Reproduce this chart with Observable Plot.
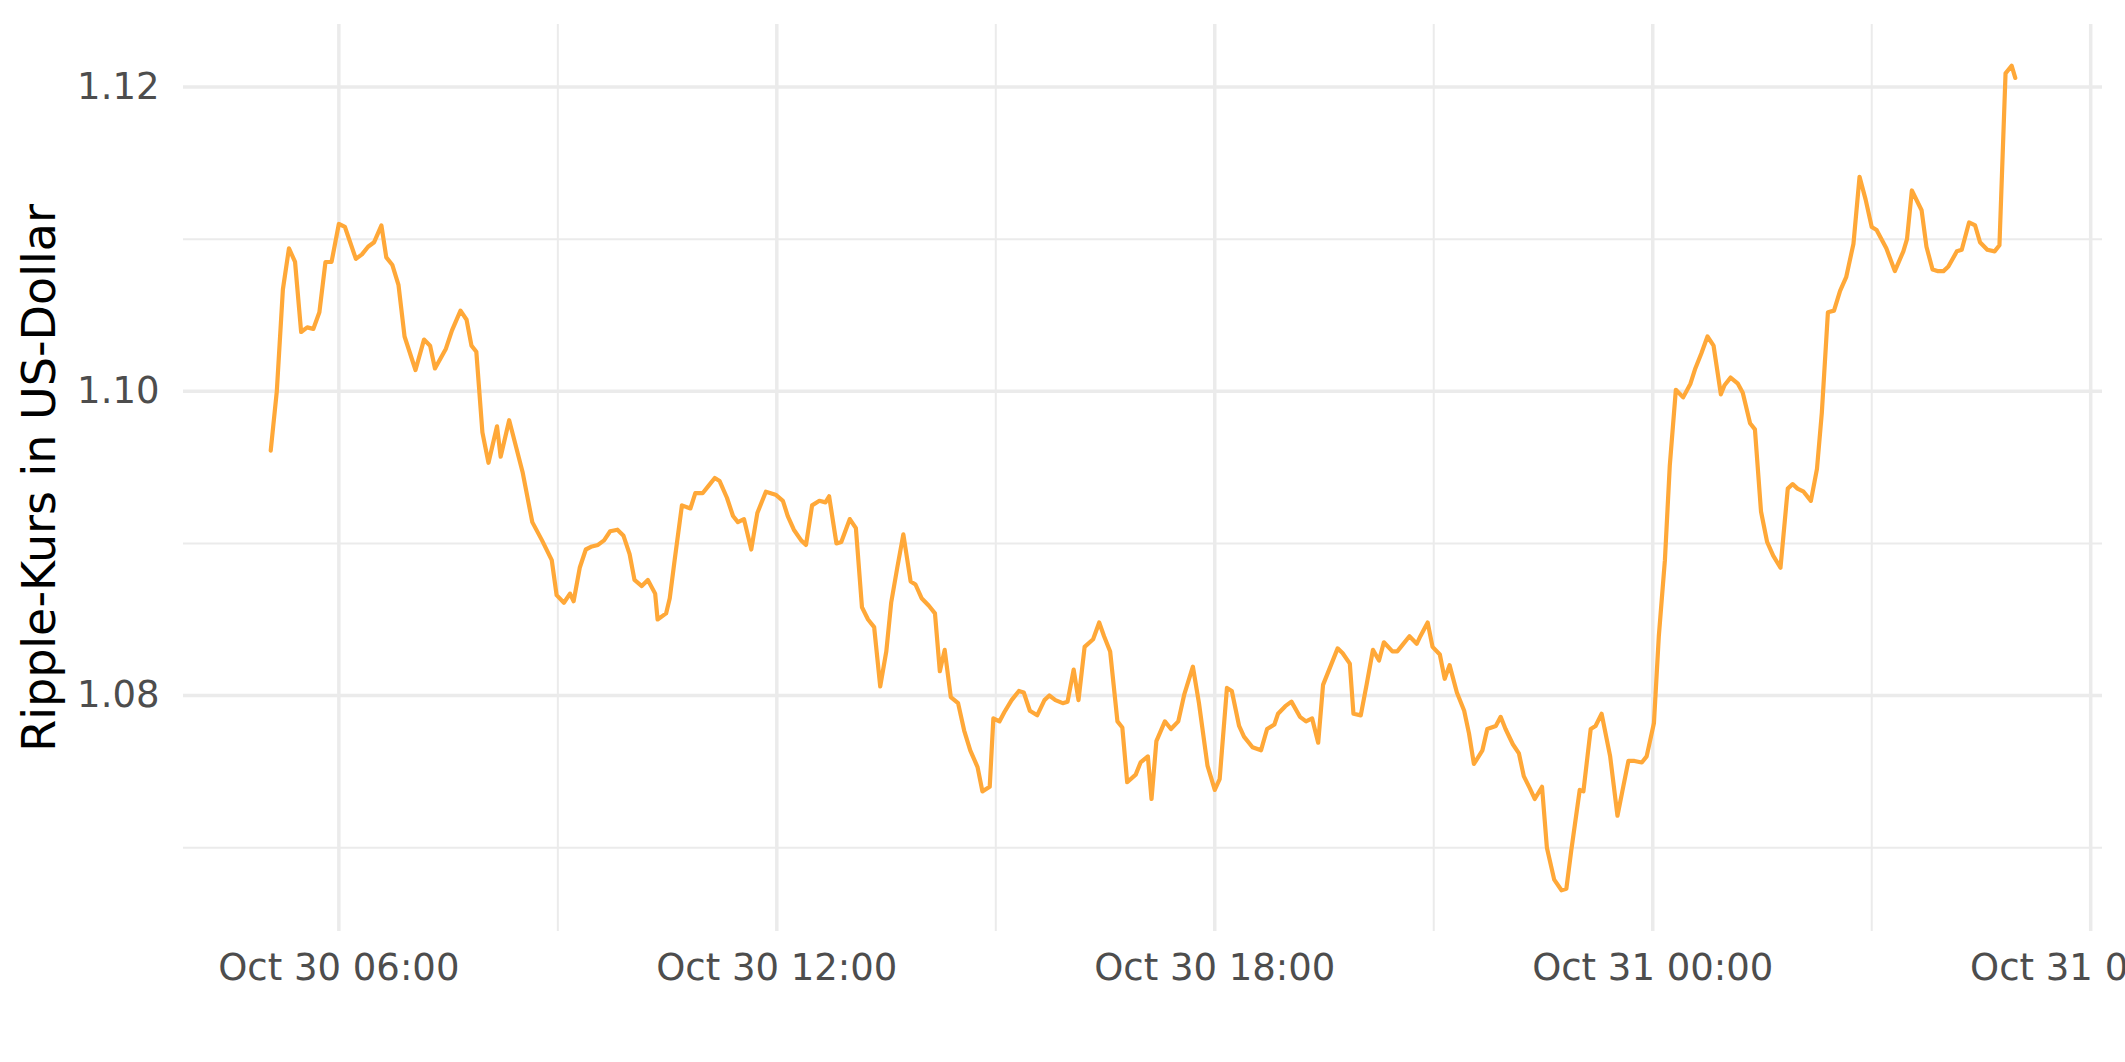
<!DOCTYPE html>
<html>
<head>
<meta charset="utf-8">
<script src="https://cdn.jsdelivr.net/npm/d3@7"></script>
<script src="https://cdn.jsdelivr.net/npm/@observablehq/plot@0.6"></script>
<style>
  html, body { margin: 0; padding: 0; background: white; overflow: hidden; }
</style>
</head>
<body>
<div id="chart"></div>
<script>
// ---- data (UTC times, Oct 30 → Oct 31) ----
const times = [
  "10-30 05:04","10-30 05:09","10-30 05:14","10-30 05:19","10-30 05:24","10-30 05:29","10-30 05:34","10-30 05:39",
  "10-30 05:44","10-30 05:49","10-30 05:54","10-30 06:00","10-30 06:05","10-30 06:14","10-30 06:19","10-30 06:24",
  "10-30 06:29","10-30 06:35","10-30 06:39","10-30 06:44","10-30 06:49","10-30 06:54","10-30 07:03","10-30 07:10",
  "10-30 07:15","10-30 07:19","10-30 07:28","10-30 07:33","10-30 07:40","10-30 07:45","10-30 07:49","10-30 07:53",
  "10-30 07:58","10-30 08:03","10-30 08:10","10-30 08:13","10-30 08:20","10-30 08:31","10-30 08:39","10-30 08:47",
  "10-30 08:55","10-30 08:59","10-30 09:05","10-30 09:10","10-30 09:13","10-30 09:18","10-30 09:23","10-30 09:28",
  "10-30 09:33","10-30 09:38","10-30 09:43","10-30 09:49","10-30 09:54","10-30 09:59","10-30 10:03","10-30 10:09",
  "10-30 10:14","10-30 10:20","10-30 10:22","10-30 10:29","10-30 10:32","10-30 10:36","10-30 10:42","10-30 10:49",
  "10-30 10:53","10-30 10:59","10-30 11:04","10-30 11:09","10-30 11:13","10-30 11:19","10-30 11:24","10-30 11:28",
  "10-30 11:33","10-30 11:39","10-30 11:44","10-30 11:51","10-30 11:59","10-30 12:05","10-30 12:09","10-30 12:14",
  "10-30 12:20","10-30 12:24","10-30 12:29","10-30 12:35","10-30 12:40","10-30 12:43","10-30 12:49","10-30 12:53",
  "10-30 13:00","10-30 13:05","10-30 13:10","10-30 13:15","10-30 13:20","10-30 13:25","10-30 13:30","10-30 13:34",
  "10-30 13:39","10-30 13:44","10-30 13:50","10-30 13:54","10-30 13:59","10-30 14:05","10-30 14:10","10-30 14:14",
  "10-30 14:18","10-30 14:23","10-30 14:29","10-30 14:34","10-30 14:39","10-30 14:45","10-30 14:49","10-30 14:55",
  "10-30 14:58","10-30 15:03","10-30 15:07","10-30 15:13","10-30 15:19","10-30 15:23","10-30 15:28","10-30 15:34",
  "10-30 15:40","10-30 15:44","10-30 15:49","10-30 15:55","10-30 15:59","10-30 16:04","10-30 16:08","10-30 16:13",
  "10-30 16:20","10-30 16:25","10-30 16:29","10-30 16:34","10-30 16:40","10-30 16:44","10-30 16:48","10-30 16:55",
  "10-30 16:59","10-30 17:05","10-30 17:08","10-30 17:12","10-30 17:19","10-30 17:24","10-30 17:30","10-30 17:35",
  "10-30 17:42","10-30 17:47","10-30 17:54","10-30 18:00","10-30 18:04","10-30 18:10","10-30 18:14","10-30 18:20",
  "10-30 18:24","10-30 18:31","10-30 18:38","10-30 18:43","10-30 18:49","10-30 18:52","10-30 18:58","10-30 19:03",
  "10-30 19:10","10-30 19:15","10-30 19:20","10-30 19:25","10-30 19:29","10-30 19:35","10-30 19:41","10-30 19:45",
  "10-30 19:51","10-30 19:54","10-30 20:00","10-30 20:05","10-30 20:10","10-30 20:15","10-30 20:19","10-30 20:26",
  "10-30 20:30","10-30 20:34","10-30 20:40","10-30 20:46","10-30 20:49","10-30 20:55","10-30 20:59","10-30 21:05",
  "10-30 21:09","10-30 21:13","10-30 21:19","10-30 21:25","10-30 21:29","10-30 21:33","10-30 21:40","10-30 21:44",
  "10-30 21:51","10-30 21:55","10-30 21:59","10-30 22:05","10-30 22:10","10-30 22:14","10-30 22:19","10-30 22:23",
  "10-30 22:29","10-30 22:33","10-30 22:39","10-30 22:45","10-30 22:49","10-30 22:53","10-30 23:00","10-30 23:03",
  "10-30 23:09","10-30 23:13","10-30 23:18","10-30 23:25","10-30 23:31","10-30 23:35","10-30 23:40","10-30 23:45",
  "10-30 23:51","10-30 23:55","10-31 00:01","10-31 00:05","10-31 00:10","10-31 00:14","10-31 00:19","10-31 00:25",
  "10-31 00:31","10-31 00:35","10-31 00:40","10-31 00:45","10-31 00:50","10-31 00:56","10-31 00:59","10-31 01:04",
  "10-31 01:10","10-31 01:14","10-31 01:20","10-31 01:24","10-31 01:29","10-31 01:34","10-31 01:39","10-31 01:45",
  "10-31 01:51","10-31 01:55","10-31 01:59","10-31 02:04","10-31 02:10","10-31 02:15","10-31 02:19","10-31 02:24",
  "10-31 02:29","10-31 02:34","10-31 02:39","10-31 02:45","10-31 02:50","10-31 02:55","10-31 03:00","10-31 03:04",
  "10-31 03:12","10-31 03:19","10-31 03:26","10-31 03:29","10-31 03:33","10-31 03:41","10-31 03:45","10-31 03:50",
  "10-31 03:54","10-31 03:59","10-31 04:03","10-31 04:10","10-31 04:14","10-31 04:20","10-31 04:25","10-31 04:29",
  "10-31 04:35","10-31 04:41","10-31 04:45","10-31 04:50","10-31 04:55","10-31 04:58"
];
const prices = [
  1.0961,1.1000,1.1067,1.1094,1.1085,1.1039,1.1042,1.1041,
  1.1052,1.1085,1.1085,1.1110,1.1108,1.1087,1.1090,1.1095,
  1.1098,1.1109,1.1088,1.1083,1.1070,1.1036,1.1014,1.1034,
  1.1030,1.1015,1.1028,1.1040,1.1053,1.1047,1.1030,1.1026,
  1.0973,1.0953,1.0977,1.0957,1.0981,1.0947,1.0914,1.0902,
  1.0889,1.0866,1.0861,1.0867,1.0862,1.0884,1.0896,1.0898,
  1.0899,1.0902,1.0908,1.0909,1.0905,1.0893,1.0876,1.0872,
  1.0876,1.0867,1.0850,1.0854,1.0864,1.0889,1.0925,1.0923,
  1.0933,1.0933,1.0938,1.0943,1.0941,1.0930,1.0918,1.0914,
  1.0916,1.0896,1.0920,1.0934,1.0932,1.0928,1.0918,1.0909,
  1.0902,1.0899,1.0925,1.0928,1.0927,1.0931,1.0900,1.0901,
  1.0916,1.0910,1.0858,1.0850,1.0845,1.0806,1.0829,1.0861,
  1.0884,1.0906,1.0875,1.0873,1.0864,1.0859,1.0854,1.0816,
  1.0830,1.0799,1.0795,1.0777,1.0764,1.0753,1.0737,1.0740,
  1.0785,1.0783,1.0789,1.0797,1.0803,1.0802,1.0790,1.0787,
  1.0797,1.0800,1.0797,1.0795,1.0796,1.0817,1.0797,1.0832,
  1.0837,1.0848,1.0839,1.0829,1.0783,1.0779,1.0743,1.0748,
  1.0756,1.0760,1.0732,1.0770,1.0783,1.0778,1.0783,1.0801,
  1.0819,1.0795,1.0754,1.0738,1.0745,1.0805,1.0803,1.0780,
  1.0773,1.0766,1.0764,1.0778,1.0781,1.0788,1.0793,1.0796,
  1.0786,1.0783,1.0785,1.0769,1.0807,1.0819,1.0831,1.0828,
  1.0821,1.0788,1.0787,1.0808,1.0830,1.0823,1.0835,1.0829,
  1.0829,1.0833,1.0839,1.0834,1.0839,1.0848,1.0832,1.0827,
  1.0811,1.0820,1.0802,1.0790,1.0775,1.0755,1.0764,1.0778,
  1.0780,1.0786,1.0778,1.0768,1.0762,1.0747,1.0739,1.0732,
  1.0740,1.0700,1.0679,1.0672,1.0673,1.0698,1.0738,1.0737,
  1.0778,1.0780,1.0788,1.0760,1.0721,1.0737,1.0757,1.0757,
  1.0756,1.0760,1.0782,1.0839,1.0889,1.0951,1.1001,1.0996,
  1.1005,1.1015,1.1025,1.1036,1.1030,1.0998,1.1004,1.1009,
  1.1005,1.0999,1.0979,1.0975,1.0921,1.0901,1.0892,1.0884,
  1.0936,1.0939,1.0936,1.0934,1.0928,1.0949,1.0986,1.1052,
  1.1053,1.1066,1.1075,1.1097,1.1141,1.1126,1.1108,1.1106,
  1.1094,1.1079,1.1092,1.1100,1.1132,1.1119,1.1095,1.1080,
  1.1079,1.1079,1.1082,1.1092,1.1093,1.1111,1.1109,1.1098,
  1.1093,1.1092,1.1096,1.1209,1.1214,1.1206
];
const year = "2024";
const xMajorTicks = ["10-30 06:00","10-30 12:00","10-30 18:00","10-31 00:00","10-31 06:00"];
const xMinorTicks = ["10-30 09:00","10-30 15:00","10-30 21:00","10-31 03:00"];
const yMajorTicks = [1.08, 1.10, 1.12];
const yMinorTicks = [1.07, 1.09, 1.11];
const yTitle = "Ripple-Kurs in US-Dollar";

// ---- build ----
const parse = d3.utcParse("%Y-%m-%d %H:%M");
const toDate = s => parse(year + "-" + s);
const data = times.map((t, i) => ({date: toDate(t), price: prices[i]}));
const xMajor = xMajorTicks.map(toDate);
const xMinor = xMinorTicks.map(toDate);

const [t0, t1] = d3.extent(data, d => d.date);
const xPad = (t1 - t0) * 0.05;
const [p0, p1] = d3.extent(data, d => d.price);
const yPad = (p1 - p0) * 0.05;

const gridColor = "#ebebeb";
const textGrey = "#4d4d4d";

const chart = Plot.plot({
  width: 2125,
  height: 1062,
  marginLeft: 183,
  marginRight: 23,
  marginTop: 24,
  marginBottom: 131,
  style: {fontFamily: "DejaVu Sans", fontSize: "37px", background: "white"},
  x: {type: "utc", domain: [new Date(+t0 - xPad), new Date(+t1 + xPad)]},
  y: {domain: [p0 - yPad, p1 + yPad]},
  marks: [
    Plot.ruleY(yMinorTicks, {stroke: gridColor, strokeWidth: 2}),
    Plot.ruleX(xMinor, {stroke: gridColor, strokeWidth: 2}),
    Plot.ruleY(yMajorTicks, {stroke: gridColor, strokeWidth: 3.5}),
    Plot.ruleX(xMajor, {stroke: gridColor, strokeWidth: 3.5}),
    Plot.axisX({ticks: xMajor, tickFormat: d3.utcFormat("%b %d %H:%M"), tickSize: 0, tickPadding: 22,
                fontSize: 37, color: textGrey, label: null}),
    Plot.axisY({ticks: yMajorTicks, tickFormat: d3.format(".2f"), tickSize: 0, tickPadding: 24,
                fontSize: 37, color: textGrey, label: null}),
    Plot.line(data, {x: "date", y: "price", stroke: "#ffa838", strokeWidth: 4.2, strokeLinejoin: "round"}),
    Plot.text([yTitle], {text: d => d, frameAnchor: "left", textAnchor: "middle", lineAnchor: "middle",
                         rotate: -90, dx: -143, fontSize: 46, fill: "black"})
  ]
});
document.getElementById("chart").appendChild(chart);
</script>
</body>
</html>
